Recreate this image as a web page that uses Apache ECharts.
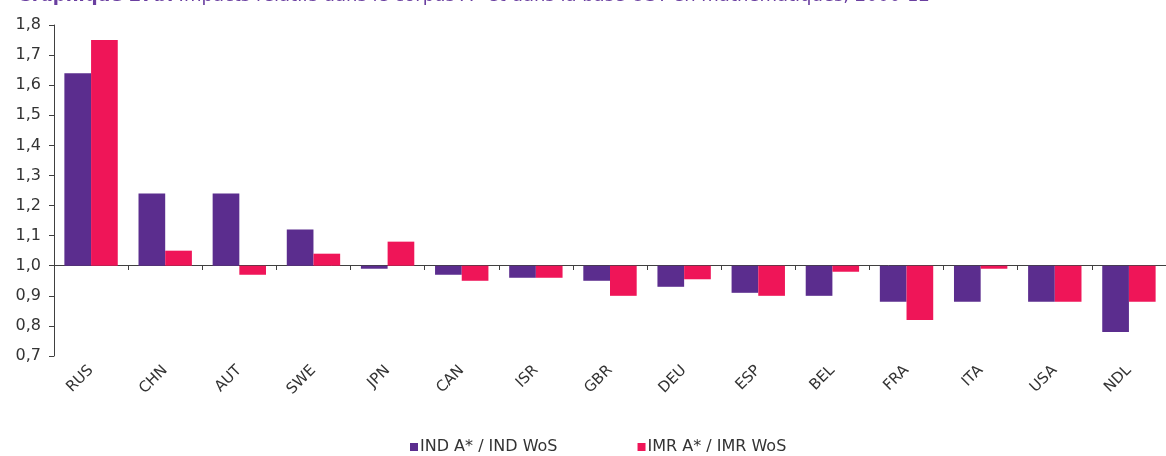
<!DOCTYPE html>
<html>
<head>
<meta charset="utf-8">
<script src="https://cdn.jsdelivr.net/npm/echarts@6/dist/echarts.min.js"></script>
<style>
  html, body { margin: 0; padding: 0; background: #ffffff; }
  #chart { width: 1166px; height: 456px; }
</style>
</head>
<body>
<div id="chart"></div>
<script>
// Relative impact ratios, mathematics, 2000-12
const categories = ['RUS', 'CHN', 'AUT', 'SWE', 'JPN', 'CAN', 'ISR', 'GBR', 'DEU', 'ESP', 'BEL', 'FRA', 'ITA', 'USA', 'NDL'];
const indRatio = [1.64, 1.24, 1.24, 1.12, 0.99, 0.97, 0.96, 0.95, 0.93, 0.91, 0.90, 0.88, 0.88, 0.88, 0.78];
const imrRatio = [1.75, 1.05, 0.97, 1.04, 1.08, 0.95, 0.96, 0.90, 0.955, 0.90, 0.98, 0.82, 0.99, 0.88, 0.88];
const seriesNames = ['IND A* / IND WoS', 'IMR A* / IMR WoS'];
const baseline = 1.0;

const PURPLE = '#5b2d8e';
const PINK = '#ef1558';
const AXIS = '#404040';
const FONT = 'DejaVu Sans';

// bars grow up or down from the 1.0 baseline
function barRenderer(side) {
  return function (params, api) {
    const i = api.value(0);
    const v = api.value(1);
    const base = api.coord([i, baseline]);
    const end = api.coord([i, v]);
    const band = api.size([1, 0])[0];
    const w = band * 0.36;
    const x0 = base[0] + (side === 0 ? -w : 0);
    return {
      type: 'rect',
      shape: { x: x0, y: Math.min(base[1], end[1]), width: w, height: Math.abs(base[1] - end[1]) },
      style: api.style()
    };
  };
}

const chart = echarts.init(document.getElementById('chart'), null, { renderer: 'canvas' });

const GRID_LEFT = 54, GRID_WIDTH = 1121, GRID_TOP = 25;

chart.setOption({
  animation: false,
  title: {
    left: 12,
    top: -18,
    text: '{b|Graphique 27b.} {n|Impacts relatifs dans le corpus A* et dans la base OST en mathématiques, 2000-12}',
    textStyle: {
      fontWeight: 'normal',
      rich: {
        b: { fontFamily: FONT, fontSize: 18, fontWeight: 'bold', color: '#6a3fa0' },
        n: { fontFamily: FONT, fontSize: 18, fontWeight: 'normal', color: '#6a3fa0' }
      }
    }
  },
  legend: {
    bottom: -4,
    left: 405,
    itemGap: 80,
    itemWidth: 8,
    itemHeight: 8,
    icon: 'rect',
    textStyle: { fontFamily: FONT, fontSize: 16, color: '#333333', padding: [0, 0, 0, -3] },
    data: [
      { name: seriesNames[0], itemStyle: { color: PURPLE } },
      { name: seriesNames[1], itemStyle: { color: PINK } }
    ]
  },
  grid: [
    { left: GRID_LEFT, width: GRID_WIDTH, top: GRID_TOP, height: 331 },
    // upper part used only to draw the category line at 1.0
    { left: GRID_LEFT, width: GRID_WIDTH, top: GRID_TOP, height: 240 }
  ],
  xAxis: [
    {
      type: 'category',
      gridIndex: 0,
      data: categories,
      axisLine: { show: false },
      axisTick: { show: false },
      axisLabel: { rotate: 45, margin: 12, fontFamily: FONT, fontSize: 15, color: '#333333' }
    },
    {
      type: 'category',
      gridIndex: 1,
      data: categories,
      position: 'bottom',
      axisLine: { show: true, lineStyle: { color: AXIS, width: 1 } },
      axisTick: { show: true, length: 5, lineStyle: { color: AXIS } },
      axisLabel: { show: false }
    }
  ],
  yAxis: [
    {
      type: 'value',
      gridIndex: 0,
      min: 0.7,
      max: 1.8,
      interval: 0.1,
      axisLine: { show: true, lineStyle: { color: AXIS, width: 1 } },
      axisTick: { show: true, length: 5, lineStyle: { color: AXIS } },
      splitLine: { show: false },
      axisLabel: {
        margin: 13,
        fontFamily: FONT,
        fontSize: 16,
        color: '#333333',
        formatter: v => v.toFixed(1).replace('.', ',')
      }
    },
    {
      type: 'value',
      gridIndex: 1,
      min: 1.0,
      max: 1.8,
      show: false
    }
  ],
  series: [
    {
      name: seriesNames[0],
      type: 'custom',
      xAxisIndex: 0,
      yAxisIndex: 0,
      itemStyle: { color: PURPLE },
      renderItem: barRenderer(0),
      encode: { x: 0, y: 1 },
      data: categories.map((c, i) => [i, indRatio[i]]),
      z: 2
    },
    {
      name: seriesNames[1],
      type: 'custom',
      xAxisIndex: 0,
      yAxisIndex: 0,
      itemStyle: { color: PINK },
      renderItem: barRenderer(1),
      encode: { x: 0, y: 1 },
      data: categories.map((c, i) => [i, imrRatio[i]]),
      z: 2
    }
  ]
});
</script>
</body>
</html>
